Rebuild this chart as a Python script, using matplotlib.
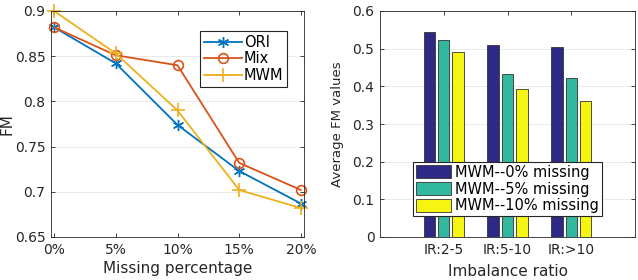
import matplotlib
matplotlib.use("Agg")
import matplotlib.pyplot as plt
import numpy as np

plt.rcParams['font.family'] = ['DejaVu Sans']

# Left chart data
missing_labels = ['0%', '5%', '10%', '15%', '20%']
ori = [0.882, 0.842, 0.774, 0.723, 0.687]
mix = [0.882, 0.851, 0.840, 0.732, 0.702]
mwm = [0.900, 0.853, 0.790, 0.702, 0.682]

# Right chart data
ir_labels = ['IR:2-5', 'IR:5-10', 'IR:>10']
mwm0 = [0.545, 0.511, 0.505]
mwm5 = [0.524, 0.432, 0.422]
mwm10 = [0.491, 0.392, 0.361]
bar_names = ['MWM--0% missing', 'MWM--5% missing', 'MWM--10% missing']

W, H = 638, 280
fig = plt.figure(figsize=(W/100, H/100), dpi=100)
ax1 = fig.add_axes([51/W, 43/H, 253/W, 226/H])
ax2 = fig.add_axes([380/W, 43/H, 255/W, 226/H])

tick_fs = 10
lab_fs = 11
txt = '#262626'

x = np.arange(len(missing_labels))
ax1.plot(x, ori, color='#0072BD', marker=(6, 2, 0), markersize=8, lw=1.3, label='ORI', clip_on=False)
ax1.plot(x, mix, color='#D95319', marker='o', markerfacecolor='none', markersize=7, mew=1.2, lw=1.3,
         label='Mix', clip_on=False)
ax1.plot(x, mwm, color='#EDB120', marker='+', markersize=10, mew=1.2, lw=1.3, label='MWM', clip_on=False)
ax1.set_xlim(-0.05, 4.05)
ax1.set_ylim(0.65, 0.9)
ax1.set_xticks(x)
ax1.set_xticklabels(missing_labels)
ax1.set_yticks([0.65, 0.7, 0.75, 0.8, 0.85, 0.9])
ax1.set_yticklabels(['0.65', '0.7', '0.75', '0.8', '0.85', '0.9'])
ax1.set_xlabel('Missing percentage', fontsize=lab_fs, color=txt, va='center')
ax1.xaxis.set_label_coords(0.5, (237 - 268) / 226)
ax1.set_ylabel('FM', fontsize=lab_fs, color=txt, va='center')
ax1.yaxis.set_label_coords((7 - 51) / 253, 0.5)
ax1.yaxis.grid(True, color='#e6e6e6', lw=0.6)
ax1.set_axisbelow(True)
leg1 = ax1.legend(loc='upper left', bbox_to_anchor=(200/W, 1 - 31/H), bbox_transform=fig.transFigure,
                  fontsize=10.5, frameon=True, framealpha=1, fancybox=False, edgecolor=txt,
                  handlelength=2.6, borderpad=0.25, labelspacing=0.12, handletextpad=0.15,
                  borderaxespad=0)
leg1.get_frame().set_linewidth(0.8)

xg = np.arange(1, len(ir_labels) + 1)
w = 0.18
off = 0.225
cols = ['#2C2A86', '#32B89E', '#F5F511']
for vals, dx, c, nm in zip([mwm0, mwm5, mwm10], [-off, 0, off], cols, bar_names):
    ax2.bar(xg + dx, vals, width=w, color=c, edgecolor='#333333', linewidth=0.6, label=nm)
ax2.set_xlim(0, 4)
ax2.set_ylim(0, 0.6)
ax2.set_xticks(xg)
ax2.set_xticklabels(ir_labels)
ax2.set_yticks([0, 0.1, 0.2, 0.3, 0.4, 0.5, 0.6])
ax2.set_yticklabels(['0', '0.1', '0.2', '0.3', '0.4', '0.5', '0.6'])
ax2.set_xlabel('Imbalance ratio', fontsize=lab_fs, color=txt, va='center')
ax2.xaxis.set_label_coords(0.5, (237 - 271) / 226)
ax2.set_ylabel('Average FM values', fontsize=9.5, color=txt, va='center')
ax2.yaxis.set_label_coords((337 - 380) / 255, 0.5)
ax2.yaxis.grid(True, color='#e6e6e6', lw=0.6)
ax2.set_axisbelow(True)
leg2 = ax2.legend(loc='upper left', bbox_to_anchor=(413/W, 1 - 162/H), bbox_transform=fig.transFigure,
                  fontsize=10.5, frameon=True, framealpha=1, fancybox=False, edgecolor=txt,
                  handlelength=2.4, handleheight=1.0, borderpad=0.2, labelspacing=0.12,
                  handletextpad=0.3, borderaxespad=0)
leg2.get_frame().set_linewidth(0.8)

for ax in (ax1, ax2):
    ax.tick_params(direction='in', top=True, right=True, labelsize=tick_fs, colors=txt,
                   length=3, width=0.6, pad=4)
    for s in ax.spines.values():
        s.set_color(txt)
        s.set_linewidth(0.6)

fig.savefig('out.png', dpi=100)
